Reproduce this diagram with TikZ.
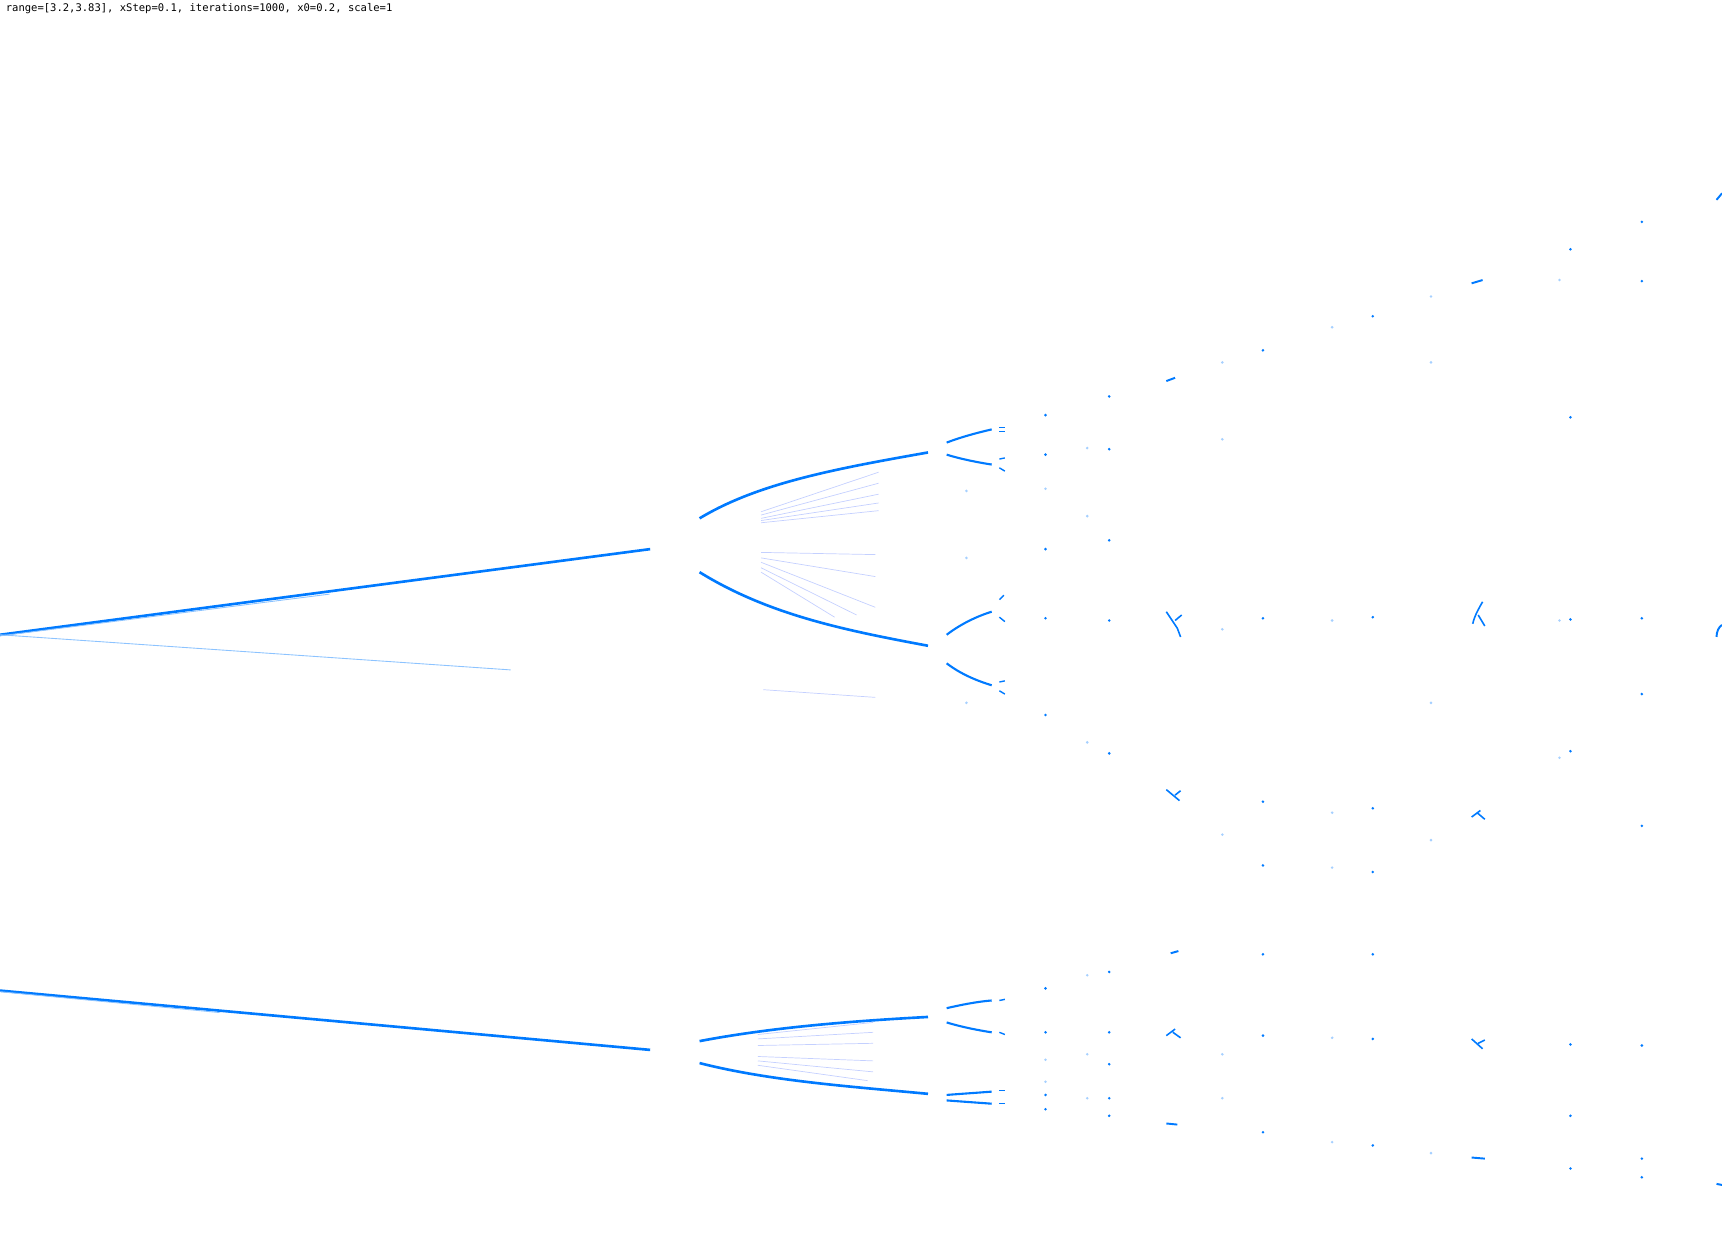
\documentclass[tikz,border=0pt]{standalone}
\usepackage{fontspec}
\newfontfamily\monofont{DejaVu Sans Mono}
\definecolor{bif}{RGB}{0,122,255}
\definecolor{bifpale}{RGB}{196,208,255}

\begin{document}
\begin{tikzpicture}[x=0.022cm,y=-0.022cm,
  branch/.style={bif, line width=1.5pt},
  twig/.style={bif, line width=1.2pt},
  fan/.style={bifpale, line width=0.4pt},
  speck/.style={bif},
  mote/.style={bif!35}]
\useasboundingbox (0,0) rectangle (1568,1128);

\node[anchor=north west, inner sep=0pt, font=\monofont\fontsize{6}{7}\selectfont] (title) at (5,3) {range=[3.2,3.83], xStep=0.1, iterations=1000, x0=0.2, scale=1};

% period two
\draw[branch] (0,578) -- (592,500);
\draw[bif!45, line width=0.5pt] (0,579) -- (300,541);
\draw[bif!45, line width=0.5pt] (0,578) -- (465,610);
\draw[branch] (0,902) -- (592,956);
\draw[bif!45, line width=0.5pt] (0,903) -- (200,922);

% period four
\draw[branch] (637,472) .. controls (690,440) and (760,427) .. (845,412);
\draw[branch] (637,521) .. controls (700,560) and (770,574) .. (845,588);
\draw[branch] (637,948) .. controls (700,936) and (770,930) .. (845,926);
\draw[branch] (637,968) .. controls (700,984) and (770,989) .. (845,996);

\draw[fan] (693,466) -- (800,430);
\draw[fan] (693,469) -- (800,440);
\draw[fan] (693,472) -- (800,450);
\draw[fan] (693,474) -- (800,458);
\draw[fan] (693,476) -- (800,465);
\draw[fan] (693,503) -- (797,505);
\draw[fan] (693,508) -- (797,525);
\draw[fan] (693,512) -- (797,553);
\draw[fan] (693,517) -- (780,560);
\draw[fan] (693,521) -- (760,562);
\draw[fan] (695,628) -- (797,635);
\draw[fan] (690,942) -- (795,931);
\draw[fan] (690,946) -- (795,940);
\draw[fan] (690,952) -- (795,950);
\draw[fan] (690,962) -- (795,966);
\draw[fan] (690,966) -- (795,976);
\draw[fan] (690,970) -- (790,984);

% period eight
\draw[twig] (862,403) .. controls (875,398) and (890,394) .. (903,391);
\draw[twig] (862,414) .. controls (875,418) and (890,421) .. (903,423);
\draw[twig] (862,578) .. controls (875,568) and (890,561) .. (903,557);
\draw[twig] (862,604) .. controls (875,614) and (890,620) .. (903,624);
\draw[twig] (862,918) .. controls (875,915) and (890,912) .. (903,911);
\draw[twig] (862,931) .. controls (875,935) and (890,938) .. (903,940);
\draw[twig] (862,997) .. controls (875,996) and (890,995) .. (903,994);
\draw[twig] (862,1002) .. controls (875,1003) and (890,1004) .. (903,1005);

\draw[bif, line width=0.8pt] (910,389) -- (915,389) (910,393) -- (915,393);
\draw[bif, line width=0.8pt] (910,418) -- (915,417) (910,426) -- (915,429);
\draw[bif, line width=0.8pt] (910,546) -- (914,542) (910,562) -- (915,566);
\draw[bif, line width=0.8pt] (910,621) -- (915,620) (910,629) -- (915,632);
\draw[bif, line width=0.8pt] (910,911) -- (915,910) (910,940) -- (915,942);
\draw[bif, line width=0.8pt] (910,993) -- (915,993) (910,1005) -- (915,1005);

% scattered points
\fill[speck] (952,378) circle(1.3) (952,414) circle(1.3) (952,500) circle(1.3) (952,563) circle(1.3) (952,651) circle(1.3) (952,900) circle(1.3) (952,940) circle(1.3) (952,997) circle(1.3) (952,1010) circle(1.3);
\fill[mote] (952,445) circle(1.3) (952,965) circle(1.3) (952,985) circle(1.3) (880,447) circle(1.3) (880,508) circle(1.3) (880,640) circle(1.3);

\fill[mote] (990,408) circle(1.3) (990,470) circle(1.3) (990,676) circle(1.3) (990,888) circle(1.3) (990,960) circle(1.3) (990,1000) circle(1.3);

\fill[speck] (1010,361) circle(1.3) (1010,409) circle(1.3) (1010,492) circle(1.3) (1010,565) circle(1.3) (1010,686) circle(1.3) (1010,885) circle(1.3) (1010,940) circle(1.3) (1010,969) circle(1.3) (1010,1000) circle(1.3) (1010,1016) circle(1.3);

\draw[bif, line width=1.1pt] (1062,347) -- (1070,344) (1066,868) -- (1073,866) (1062,1023) -- (1072,1024);
\draw[bif, line width=0.9pt] (1062,557) -- (1072,572) (1070,565) -- (1076,560) (1072,572) -- (1075,580);
\draw[bif, line width=0.9pt] (1062,719) -- (1074,729) (1070,724) -- (1075,720);
\draw[bif, line width=0.9pt] (1062,943) -- (1070,937) (1068,940) -- (1075,945);

\fill[mote] (1113,330) circle(1.3) (1113,400) circle(1.3) (1113,573) circle(1.3) (1113,760) circle(1.3) (1113,960) circle(1.3) (1113,1000) circle(1.3);

\fill[speck] (1150,319) circle(1.3) (1150,563) circle(1.3) (1150,730) circle(1.3) (1150,788) circle(1.3) (1150,869) circle(1.3) (1150,943) circle(1.3) (1150,1031) circle(1.3);

\fill[mote] (1213,298) circle(1.3) (1213,565) circle(1.3) (1213,740) circle(1.3) (1213,790) circle(1.3) (1213,945) circle(1.3) (1213,1040) circle(1.3);

\fill[speck] (1250,288) circle(1.3) (1250,562) circle(1.3) (1250,736) circle(1.3) (1250,794) circle(1.3) (1250,869) circle(1.3) (1250,946) circle(1.3) (1250,1043) circle(1.3);

\fill[mote] (1303,270) circle(1.3) (1303,330) circle(1.3) (1303,640) circle(1.3) (1303,765) circle(1.3) (1303,1050) circle(1.3);

\draw[bif, line width=1.1pt] (1340,258) -- (1350,255) (1340,1054) -- (1352,1055);
\draw[bif, line width=0.9pt] (1341,568) .. controls (1343,560) and (1346,555) .. (1350,548) (1346,560) -- (1352,570);
\draw[bif, line width=0.9pt] (1340,744) -- (1348,738) (1345,740) -- (1352,746);
\draw[bif, line width=0.9pt] (1340,946) -- (1350,955) (1346,950) -- (1352,947);

\fill[mote] (1420,255) circle(1.3) (1420,565) circle(1.3) (1420,690) circle(1.3);

\fill[speck] (1430,227) circle(1.3) (1430,380) circle(1.3) (1430,564) circle(1.3) (1430,684) circle(1.3) (1430,951) circle(1.3) (1430,1016) circle(1.3) (1430,1064) circle(1.3);

\fill[speck] (1495,202) circle(1.3) (1495,256) circle(1.3) (1495,563) circle(1.3) (1495,632) circle(1.3) (1495,752) circle(1.3) (1495,952) circle(1.3) (1495,1055) circle(1.3) (1495,1072) circle(1.3);

\draw[bif, line width=1.1pt] (1563,182) -- (1568,176) (1563,580) .. controls (1563,575) and (1565,571) .. (1568,569) (1563,1078) -- (1568,1079);
\end{tikzpicture}
\end{document}
